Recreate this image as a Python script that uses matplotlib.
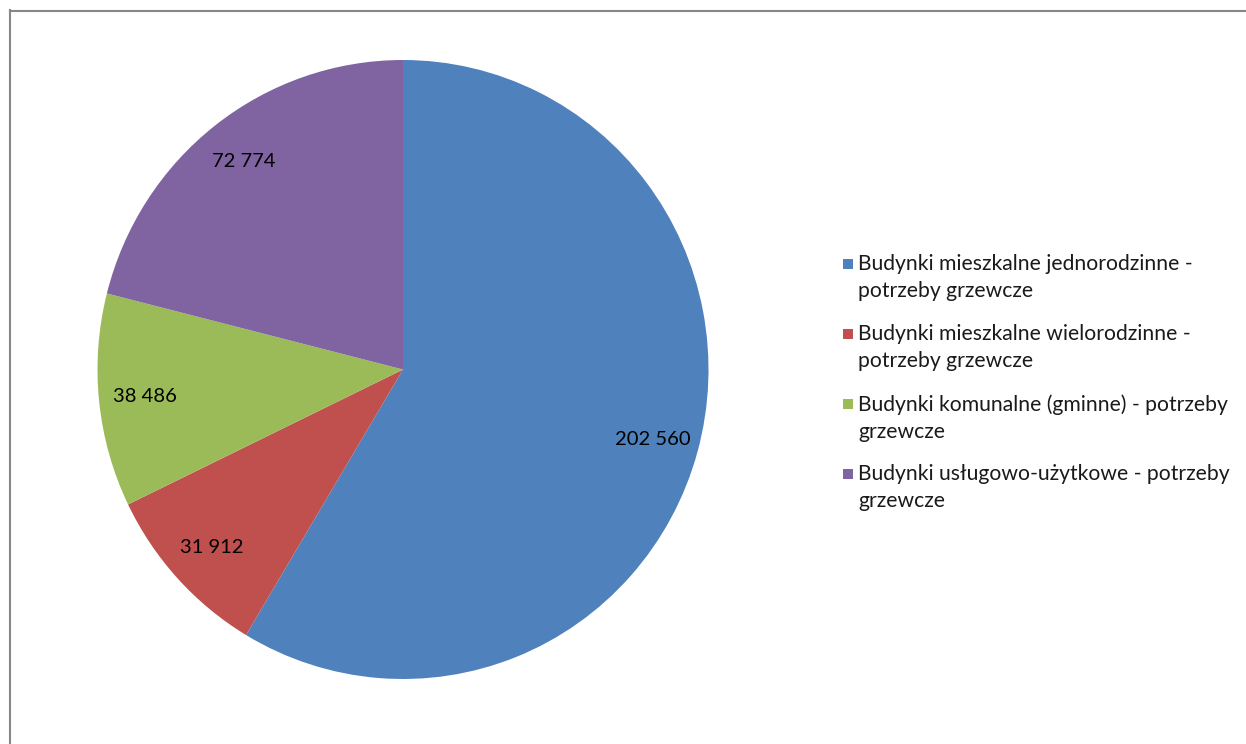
import matplotlib.pyplot as plt
from matplotlib.lines import Line2D
from matplotlib.patches import Rectangle

plt.rcParams['font.family'] = ['Lato', 'DejaVu Sans']

categories = [
    'Budynki mieszkalne jednorodzinne -\npotrzeby grzewcze',
    'Budynki mieszkalne wielorodzinne -\npotrzeby grzewcze',
    'Budynki komunalne (gminne) - potrzeby\ngrzewcze',
    'Budynki usługowo-użytkowe - potrzeby\ngrzewcze',
]
values = [202560, 31912, 38486, 72774]
colors = ['#4F81BD', '#C0504D', '#9BBB59', '#8064A2']

W, H = 1246, 744
fig = plt.figure(figsize=(W / 100, H / 100), dpi=100)

# chart frame (only top and left edges are visible)
fig.add_artist(Line2D([10 / W, 10 / W], [0, 1 - 10 / H], color='#878787', lw=1.5,
                      transform=fig.transFigure))
fig.add_artist(Line2D([10 / W, 1], [1 - 11 / H, 1 - 11 / H], color='#878787', lw=1.5,
                      transform=fig.transFigure))

# pie is very slightly taller than wide
cx, cy, rx, ry = 403, H - 369.5, 305.5, 309.5
ax = fig.add_axes([(cx - rx) / W, (cy - ry) / H, 2 * rx / W, 2 * ry / H])

labels = [f'{v:,}'.replace(',', ' ') for v in values]
wedges, texts = ax.pie(values, colors=colors, startangle=90, counterclock=False,
                       labels=labels, labeldistance=0.85,
                       wedgeprops=dict(linewidth=0))
for t in texts:
    t.set_ha('center')
    t.set_va('center')
    t.set_fontsize(14.5)
    t.set_color('black')
ax.set_xlim(-1, 1)
ax.set_ylim(-1, 1)
ax.set_aspect('auto')
ax.axis('off')

# legend: marker squares line up with the first line of each entry
for i, (name, c) in enumerate(zip(categories, colors)):
    y_mid = 264 + 70 * i
    fig.add_artist(Rectangle((843 / W, 1 - (y_mid + 5) / H), 10 / W, 10 / H,
                             facecolor=c, edgecolor='none',
                             transform=fig.transFigure))
    fig.text(858 / W, 1 - (y_mid - 10) / H, name, fontsize=15.2, va='top',
             ha='left', linespacing=1.45, color='#1a1a1a')

fig.savefig('out.png', dpi=100)
